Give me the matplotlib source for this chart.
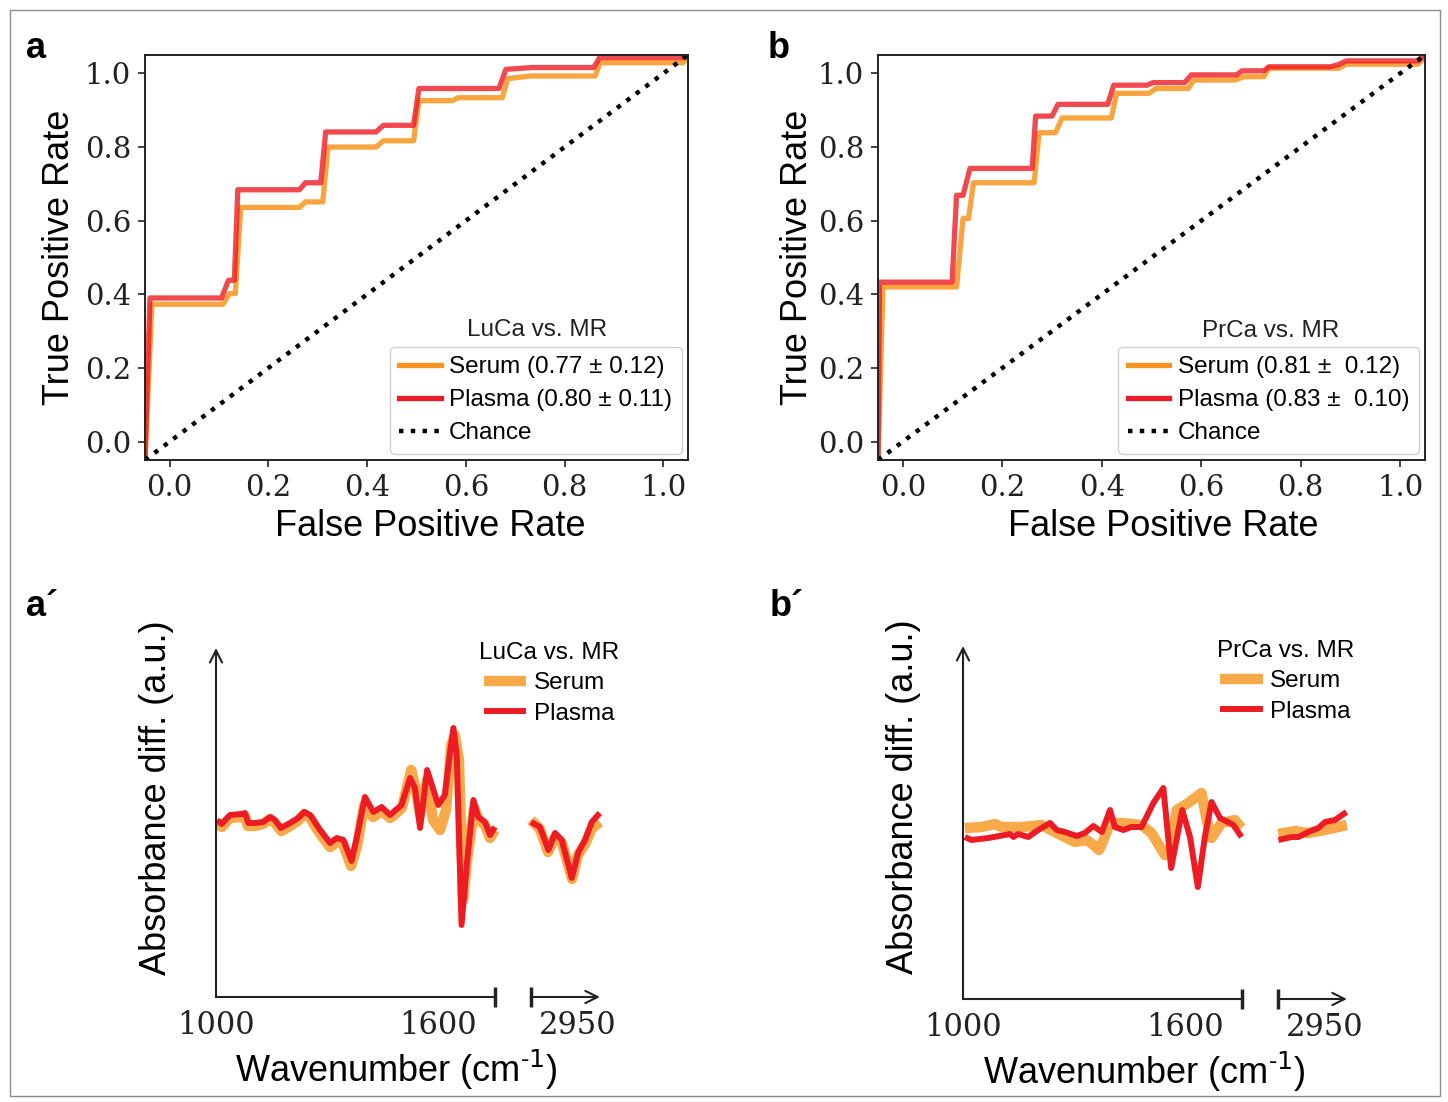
import numpy as np
import matplotlib
matplotlib.use('Agg')
import matplotlib.pyplot as plt
from matplotlib.patches import Rectangle

# ---- ROC curves ----
luca_serum_fpr = [-0.05, -0.036, 0.108, 0.121, 0.133, 0.144, 0.263, 0.275, 0.31, 0.321, 0.418, 0.433,
                  0.494, 0.505, 0.573, 0.584, 0.674, 0.685, 0.732, 0.862, 0.872, 1.04, 1.05]
luca_serum_tpr = [-0.05, 0.373, 0.373, 0.402, 0.402, 0.636, 0.636, 0.651, 0.651, 0.80, 0.80, 0.817,
                  0.817, 0.926, 0.926, 0.934, 0.934, 0.986, 0.993, 0.993, 1.029, 1.029, 1.045]
luca_plasma_fpr = [-0.05, -0.04, 0.105, 0.119, 0.131, 0.138, 0.263, 0.275, 0.306, 0.316, 0.418, 0.433,
                   0.494, 0.505, 0.667, 0.681, 0.735, 0.859, 0.871, 1.04, 1.05]
luca_plasma_tpr = [-0.05, 0.39, 0.39, 0.438, 0.438, 0.684, 0.684, 0.703, 0.703, 0.841, 0.841, 0.859,
                   0.859, 0.959, 0.959, 1.011, 1.016, 1.016, 1.043, 1.043, 1.05]

prca_serum_fpr = [-0.05, -0.04, 0.108, 0.121, 0.132, 0.142, 0.264, 0.274, 0.307, 0.32, 0.419, 0.43,
                  0.495, 0.509, 0.574, 0.585, 0.668, 0.686, 0.726, 0.736, 0.877, 0.892, 1.036, 1.05]
prca_serum_tpr = [-0.05, 0.42, 0.42, 0.606, 0.606, 0.703, 0.703, 0.839, 0.839, 0.879, 0.879, 0.946,
                  0.946, 0.959, 0.959, 0.982, 0.982, 0.991, 0.991, 1.014, 1.014, 1.025, 1.025, 1.045]
prca_plasma_fpr = [-0.05, -0.047, 0.099, 0.108, 0.121, 0.135, 0.26, 0.267, 0.30, 0.312, 0.412, 0.424,
                   0.491, 0.503, 0.567, 0.58, 0.671, 0.682, 0.726, 0.736, 0.859, 0.874, 0.892, 1.036, 1.05]
prca_plasma_tpr = [-0.05, 0.433, 0.433, 0.669, 0.669, 0.742, 0.742, 0.884, 0.884, 0.916, 0.916, 0.968,
                   0.968, 0.975, 0.975, 0.996, 0.996, 1.007, 1.007, 1.018, 1.018, 1.023, 1.034, 1.034, 1.05]

chance = [-0.05, 1.05]

# ---- difference spectra (wavenumber, a.u.) ----
luca_serum_wn = [1003, 1016, 1038, 1070, 1078, 1086, 1105, 1127, 1146, 1159, 1176, 1200, 1221, 1238,
                 1254, 1281, 1308, 1327, 1343, 1365, 1381, 1400, 1424, 1448, 1470, 1481, 1502, 1527,
                 1540, 1551, 1570, 1586, 1605, 1621, 1635, 1645, 1656, 1667, 1678, 1697, 1710, 1726,
                 1740, 1753,
                 2825, 2849, 2871, 2890, 2909, 2936, 2952, 2971, 2990, 3011]
luca_serum_ab = [-0.01, -0.05, 0.04, 0.05, 0.06, -0.04, -0.04, -0.02, 0.03, -0.01, -0.09, -0.04, 0.01,
                 0.08, 0.04, -0.12, -0.25, -0.20, -0.22, -0.44, -0.24, 0.17, 0.05, 0.11, 0.04, 0.07,
                 0.14, 0.52, 0.32, 0.07, 0.42, 0.02, -0.08, 0.12, 0.77, 0.87, 0.62, -0.78, -0.38, 0.14,
                 0.02, -0.03, -0.16, -0.08,
                 0.02, -0.07, -0.30, -0.15, -0.21, -0.57, -0.33, -0.22, -0.06, 0.00]
luca_plasma_wn = [1003, 1015, 1038, 1069, 1078, 1087, 1105, 1128, 1146, 1159, 1175, 1200, 1222, 1238,
                  1254, 1281, 1308, 1326, 1344, 1366, 1380, 1402, 1425, 1447, 1470, 1479, 1501, 1524,
                  1537, 1551, 1570, 1600, 1618, 1632, 1641, 1650, 1663, 1677, 1695, 1708, 1726, 1740,
                  1753,
                  2825, 2849, 2872, 2890, 2908, 2935, 2953, 2971, 2989, 3011]
luca_plasma_ab = [0.02, -0.02, 0.07, 0.08, 0.09, -0.01, -0.01, 0.00, 0.05, 0.02, -0.06, -0.01, 0.04,
                  0.10, 0.07, -0.08, -0.21, -0.16, -0.18, -0.39, -0.16, 0.25, 0.10, 0.15, 0.07, 0.10,
                  0.17, 0.44, 0.34, -0.06, 0.52, 0.17, 0.27, 0.70, 0.94, 0.67, -1.03, -0.43, 0.22, 0.05,
                  0.00, -0.13, -0.05,
                  0.00, -0.05, -0.28, -0.11, -0.18, -0.56, -0.30, -0.18, 0.00, 0.09]

prca_serum_wn = [1005, 1050, 1086, 1104, 1158, 1212, 1248, 1275, 1302, 1334, 1352, 1367, 1374, 1397,
                 1428, 1482, 1509, 1545, 1559, 1577, 1608, 1644, 1658, 1671, 1698, 1734, 1752,
                 2826, 2871, 2906, 2952, 3011]
prca_serum_ab = [-0.06, -0.05, -0.02, -0.05, -0.05, -0.03, -0.10, -0.15, -0.20, -0.18, -0.23, -0.28,
                 -0.23, -0.01, -0.01, -0.03, -0.11, -0.33, -0.33, 0.12, 0.19, 0.29, 0.02, -0.16, -0.01,
                 0.02, -0.06,
                 -0.12, -0.09, -0.11, -0.08, -0.03]
prca_plasma_wn = [1005, 1023, 1068, 1113, 1127, 1136, 1149, 1176, 1203, 1235, 1253, 1275, 1307, 1329,
                  1352, 1375, 1397, 1410, 1433, 1455, 1482, 1514, 1541, 1562, 1592, 1613, 1634, 1653,
                  1671, 1694, 1730, 1752,
                  2826, 2862, 2880, 2907, 2934, 2952, 2979, 3010]
prca_plasma_ab = [-0.15, -0.18, -0.16, -0.13, -0.12, -0.15, -0.12, -0.15, -0.08, -0.01, -0.08, -0.10,
                  -0.14, -0.11, -0.04, -0.10, 0.12, -0.05, -0.08, -0.05, -0.05, 0.19, 0.34, -0.46, 0.12,
                  -0.15, -0.65, -0.15, 0.20, 0.04, -0.03, -0.15,
                  -0.18, -0.15, -0.15, -0.10, -0.06, 0.00, 0.02, 0.10]

ORANGE = '#F7941D'
RED = '#ED1C24'
W, H = 1448, 1102

plt.rcParams['font.family'] = ['Liberation Sans', 'DejaVu Sans']


def fig_box(left, top, right, bottom):
    # pixel box -> figure fraction rect
    return [left / W, 1 - bottom / H, (right - left) / W, (bottom - top) / H]


def plot_roc(ax, serum, plasma, labels, title, title_xy, xlabel_x, ylabel_x):
    ax.plot(serum[0], serum[1], color=ORANGE, lw=3.8, alpha=0.85, label=labels[0])
    ax.plot(plasma[0], plasma[1], color=RED, lw=3.8, alpha=0.8, label=labels[1])
    ax.plot(chance, chance, color='k', ls=':', lw=3.2, label='Chance')
    ax.set_xlim(-0.05, 1.05)
    ax.set_ylim(-0.05, 1.05)
    ticks = [0.0, 0.2, 0.4, 0.6, 0.8, 1.0]
    ax.set_xticks(ticks)
    ax.set_yticks(ticks)
    ax.set_xticklabels(['%.1f' % t for t in ticks], family='DejaVu Serif', fontsize=21)
    ax.set_yticklabels(['%.1f' % t for t in ticks], family='DejaVu Serif', fontsize=21)
    ax.tick_params(length=5, width=1.2, pad=5, colors='#222222')
    for s in ax.spines.values():
        s.set_linewidth(1.4)
        s.set_color('#222222')
    ax.set_xlabel('False Positive Rate', fontsize=26)
    ax.set_ylabel('True Positive Rate', fontsize=26)
    ax.xaxis.set_label_coords(xlabel_x, -0.12)
    ax.yaxis.set_label_coords(ylabel_x, 0.5)
    leg = ax.legend(loc='lower right', bbox_to_anchor=(1.0, 0.0), borderaxespad=0.25,
                    fontsize=17.5, handlelength=1.7, handletextpad=0.35, labelspacing=0.45,
                    borderpad=0.4, framealpha=1, edgecolor='#d0d0d0')
    for h in leg.get_lines():
        h.set_alpha(1)
    ax.text(title_xy[0], title_xy[1], title, transform=ax.transAxes, ha='center', va='center',
            fontsize=17.5, color='#222222')


def to_plot(wn):
    wn = np.asarray(wn, float)
    return np.where(wn < 2000, wn, wn - 2825 + 1850.5)


def plot_spectra(ax, serum, plasma, title, legend_xy, ybot, ytop, xlabel_x, ylabel_xy):
    for wn, ab, col, lw, a, lab in [(serum[0], serum[1], ORANGE, 7.5, 0.8, 'Serum'),
                                     (plasma[0], plasma[1], RED, 4.3, 1.0, 'Plasma')]:
        wn = np.asarray(wn, float)
        ab = np.asarray(ab, float)
        low = wn < 2000
        ax.plot(to_plot(wn[low]), ab[low], color=col, lw=lw, alpha=a, label=lab,
                solid_capstyle='butt', solid_joinstyle='round')
        ax.plot(to_plot(wn[~low]), ab[~low], color=col, lw=lw, alpha=a,
                solid_capstyle='butt', solid_joinstyle='round')
    ax.set_xlim(1000, 2144.8)
    ax.set_ylim(ybot, 2.02)
    for s in ax.spines.values():
        s.set_visible(False)
    # schematic axes
    ax.annotate('', xy=(1000, ytop), xytext=(1000, ybot), annotation_clip=False,
                arrowprops=dict(arrowstyle='->', lw=1.5, color='#222222', mutation_scale=22,
                                shrinkA=0, shrinkB=0))
    ax.plot([1000, 1753], [ybot, ybot], color='#222222', lw=1.5, clip_on=False)
    ax.plot([1753], [ybot], marker='|', ms=14, mew=2.5, color='#222222', clip_on=False)
    x2a, x2b = float(to_plot(2825)), float(to_plot(3011))
    ax.plot([x2a], [ybot], marker='|', ms=14, mew=2.5, color='#222222', clip_on=False)
    ax.annotate('', xy=(x2b, ybot), xytext=(x2a, ybot), annotation_clip=False,
                arrowprops=dict(arrowstyle='->', lw=1.5, color='#222222', mutation_scale=22,
                                shrinkA=0, shrinkB=0))
    ax.set_yticks([])
    ax.set_xticks(to_plot([1000, 1600, 2950]))
    ax.set_xticklabels(['1000', '1600', '2950'], family='DejaVu Serif', fontsize=22)
    ax.tick_params(axis='x', length=0, pad=9, colors='#222222')
    ax.set_xlabel('Wavenumber (cm$^{\\mathregular{\u2010}1}$)', fontsize=26)
    ax.xaxis.set_label_coords(xlabel_x, -0.135)
    ax.set_ylabel('Absorbance diff. (a.u.)', fontsize=26)
    ax.yaxis.set_label_coords(*ylabel_xy)
    ax.legend(loc='upper center', bbox_to_anchor=legend_xy, title=title, frameon=False,
              fontsize=17.5, title_fontsize=17.5, handlelength=1.75, handletextpad=0.3,
              labelspacing=0.35, borderpad=0.0)


fig = plt.figure(figsize=(W / 100, H / 100), dpi=100)
fig.patches.append(Rectangle((10 / W, 6 / H), 1430 / W, 1086 / H, transform=fig.transFigure,
                             fill=False, ec='#8a8a8a', lw=1))

ax_a = fig.add_axes(fig_box(145, 55, 688, 460))
plot_roc(ax_a, (luca_serum_fpr, luca_serum_tpr), (luca_plasma_fpr, luca_plasma_tpr),
         ['Serum (0.77 \u00b1 0.12)', 'Plasma (0.80 \u00b1 0.11)'], 'LuCa vs. MR',
         (0.722, 0.321), 0.525, -0.125)

ax_b = fig.add_axes(fig_box(878, 55, 1425, 460))
plot_roc(ax_b, (prca_serum_fpr, prca_serum_tpr), (prca_plasma_fpr, prca_plasma_tpr),
         ['Serum (0.81 \u00b1  0.12)', 'Plasma (0.83 \u00b1  0.10)'], 'PrCa vs. MR',
         (0.718, 0.318), 0.522, -0.115)

ax_c = fig.add_axes(fig_box(216, 620, 640, 997))
plot_spectra(ax_c, (luca_serum_wn, luca_serum_ab), (luca_plasma_wn, luca_plasma_ab), 'LuCa vs. MR',
             (0.785, 0.975), -1.75, 1.74, 0.425, (-0.1, 0.53))

ax_d = fig.add_axes(fig_box(963, 620, 1387, 999))
plot_spectra(ax_d, (prca_serum_wn, prca_serum_ab), (prca_plasma_wn, prca_plasma_ab), 'PrCa vs. MR',
             (0.76, 0.98), -1.77, 1.76, 0.427, (-0.1, 0.533))

for x, y, t in [(26, 48, 'a'), (768, 48, 'b'), (26, 607, 'a\u00b4'), (770, 607, 'b\u00b4')]:
    fig.text(x / W, 1 - y / H, t, ha='left', va='center', fontsize=26, fontweight='bold')

fig.savefig('out.png', dpi=100)
